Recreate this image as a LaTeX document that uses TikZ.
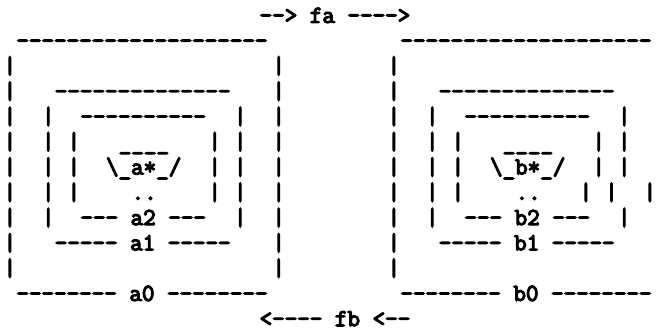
\documentclass[tikz,border=0pt]{standalone}
\tikzset{asc/.style={inner sep=0pt, outer sep=0pt, anchor=base west,
  font=\ttfamily\fontsize{24.38pt}{28pt}\selectfont\frenchspacing, text=black}}
\newcommand\heavy[1]{\special{pdf:literal 2 Tr 1.2 w}#1\special{pdf:literal 0 Tr}}
\newcommand\seg[4]{\node[asc] (#1) at ({3.6pt+#2*12.8pt},{-22.8pt-#3*25.28pt}) {\heavy{#4}};}
\begin{document}
\begin{tikzpicture}
\fill[white] (0,0) rectangle (659pt,-329pt);
\useasboundingbox (0,0) rectangle (659pt,-329pt);
% row 0
\seg{fa}{20}{0}{-\/-> fa -\/-\/-\/->}
% row 1
\seg{atop}{1}{1}{-\/-\/-\/-\/-\/-\/-\/-\/-\/-\/-\/-\/-\/-\/-\/-\/-\/-\/-\/-}
\seg{btop}{31}{1}{-\/-\/-\/-\/-\/-\/-\/-\/-\/-\/-\/-\/-\/-\/-\/-\/-\/-\/-\/-}
% row 2
\seg{r2c0}{0}{2}{|}\seg{r2c21}{21}{2}{|}\seg{r2c30}{30}{2}{|}
% row 3
\seg{r3c0}{0}{3}{|}\seg{a1top}{4}{3}{-\/-\/-\/-\/-\/-\/-\/-\/-\/-\/-\/-\/-\/-}\seg{r3c21}{21}{3}{|}
\seg{r3c30}{30}{3}{|}\seg{b1top}{34}{3}{-\/-\/-\/-\/-\/-\/-\/-\/-\/-\/-\/-\/-\/-}
% row 4
\seg{r4c0}{0}{4}{|}\seg{r4c3}{3}{4}{|}\seg{a2top}{6}{4}{-\/-\/-\/-\/-\/-\/-\/-\/-\/-}\seg{r4c18}{18}{4}{|}\seg{r4c21}{21}{4}{|}
\seg{r4c30}{30}{4}{|}\seg{r4c33}{33}{4}{|}\seg{b2top}{36}{4}{-\/-\/-\/-\/-\/-\/-\/-\/-\/-}\seg{r4c48}{48}{4}{|}
% row 5
\seg{r5c0}{0}{5}{|}\seg{r5c3}{3}{5}{|}\seg{r5c5}{5}{5}{|}\seg{acap}{9}{5}{\_\_\_\_}
\seg{r5c16}{16}{5}{|}\seg{r5c18}{18}{5}{|}\seg{r5c21}{21}{5}{|}
\seg{r5c30}{30}{5}{|}\seg{r5c33}{33}{5}{|}\seg{r5c35}{35}{5}{|}\seg{bcap}{39}{5}{\_\_\_\_}
\seg{r5c46}{46}{5}{|}\seg{r5c48}{48}{5}{|}
% row 6
\seg{r6c0}{0}{6}{|}\seg{r6c3}{3}{6}{|}\seg{r6c5}{5}{6}{|}\seg{astar}{8}{6}{\textbackslash\_a*\_/}
\seg{r6c16}{16}{6}{|}\seg{r6c18}{18}{6}{|}\seg{r6c21}{21}{6}{|}
\seg{r6c30}{30}{6}{|}\seg{r6c33}{33}{6}{|}\seg{r6c35}{35}{6}{|}\seg{bstar}{38}{6}{\textbackslash\_b*\_/}
\seg{r6c46}{46}{6}{|}\seg{r6c48}{48}{6}{|}
% row 7
\seg{r7c0}{0}{7}{|}\seg{r7c3}{3}{7}{|}\seg{r7c5}{5}{7}{|}\seg{adots}{10}{7}{..}
\seg{r7c16}{16}{7}{|}\seg{r7c18}{18}{7}{|}\seg{r7c21}{21}{7}{|}
\seg{r7c30}{30}{7}{|}\seg{r7c33}{33}{7}{|}\seg{r7c35}{35}{7}{|}\seg{bdots}{40}{7}{..}
\seg{r7c45}{45}{7}{|}\seg{r7c47}{47}{7}{|}\seg{r7c50}{50}{7}{|}
% row 8
\seg{r8c0}{0}{8}{|}\seg{r8c3}{3}{8}{|}\seg{a2}{6}{8}{-\/-\/- a2 -\/-\/-}\seg{r8c18}{18}{8}{|}\seg{r8c21}{21}{8}{|}
\seg{r8c30}{30}{8}{|}\seg{r8c33}{33}{8}{|}\seg{b2}{36}{8}{-\/-\/- b2 -\/-\/-}\seg{r8c48}{48}{8}{|}
% row 9
\seg{r9c0}{0}{9}{|}\seg{a1}{4}{9}{-\/-\/-\/-\/- a1 -\/-\/-\/-\/-}\seg{r9c21}{21}{9}{|}
\seg{r9c30}{30}{9}{|}\seg{b1}{34}{9}{-\/-\/-\/-\/- b1 -\/-\/-\/-\/-}
% row 10
\seg{r10c0}{0}{10}{|}\seg{r10c21}{21}{10}{|}\seg{r10c30}{30}{10}{|}
% row 11
\seg{a0}{1}{11}{-\/-\/-\/-\/-\/-\/-\/- a0 -\/-\/-\/-\/-\/-\/-\/-}
\seg{b0}{31}{11}{-\/-\/-\/-\/-\/-\/-\/- b0 -\/-\/-\/-\/-\/-\/-\/-}
% row 12
\seg{fb}{20}{12}{<-\/-\/-\/- fb <-\/-}
\end{tikzpicture}
\end{document}
